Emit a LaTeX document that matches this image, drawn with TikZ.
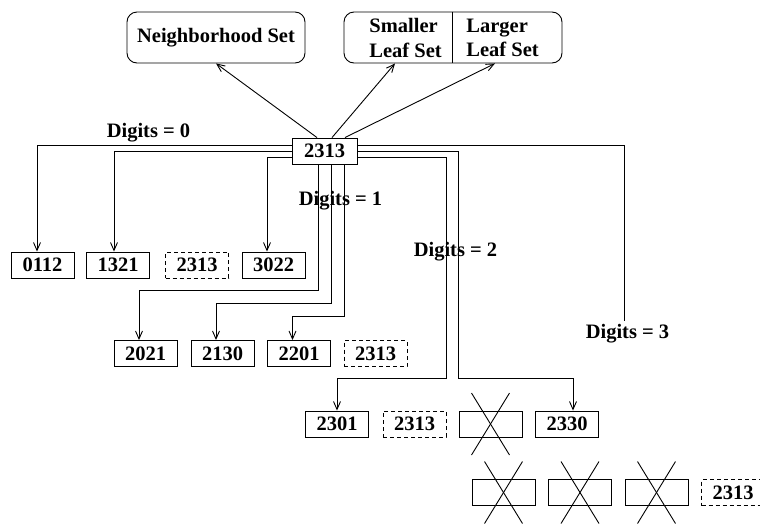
\documentclass[tikz,border=0pt]{standalone}
\usepackage{fontspec}
\setmainfont{Liberation Serif}
\usetikzlibrary{arrows.meta}
\begin{document}
\begin{tikzpicture}[x=1pt,y=-1pt,
  font=\fontsize{20.5}{24.6}\selectfont\bfseries,
  every node/.style={inner sep=0pt},
  line width=0.9pt,
  link/.style={-{Straight Barb[length=8pt,width=7pt]}},
  key/.style={draw, minimum width=63pt, minimum height=26pt},
  self/.style={key, dash pattern=on 4pt off 3pt},
  setbox/.style={draw, rounded corners=10pt, minimum height=51pt},
  label/.style={}]
\fill[white] (0,0) rectangle (760,528);
\useasboundingbox (0,0) rectangle (760,528);

% routing table owner and its state sets
\node[key, minimum width=65pt, fill=white] (hub) at (324.5,151) {2313};
\node[setbox, minimum width=178pt] (nbr) at (216,37.5) {Neighborhood Set};
\node[setbox, minimum width=218pt] (leaf) at (453,37.5) {};
\draw ([xshift=-1pt]leaf.north) -- ([xshift=-1pt]leaf.south);
\node[align=left, anchor=west] (sm) at (369,38) {Smaller\\Leaf Set};
\node[align=left, anchor=west] (lg) at (466,38) {Larger\\Leaf Set};

% row labels
\node[label] (d0) at (148.5,133) {Digits = 0};
\node[label] (d1) at (340.5,201) {Digits = 1};
\node[label] (d2) at (455.5,252) {Digits = 2};
\node[label] (d3) at (627.5,334) {Digits = 3};

% row 0
\node[key] (k0112) at (42.5,265) {0112};
\node[key] (k1321) at (118,265) {1321};
\node[self] (s0) at (197,265) {2313};
\node[key] (k3022) at (273.5,265) {3022};
% row 1
\node[key] (k2021) at (145.5,353.5) {2021};
\node[key] (k2130) at (222.5,353.5) {2130};
\node[key] (k2201) at (299,353.5) {2201};
\node[self] (s1) at (375.5,353.5) {2313};
% row 2
\node[key] (k2301) at (337,424) {2301};
\node[self] (s2) at (414.5,424) {2313};
\node[key] (xa) at (490.5,424) {};
\node[key] (k2330) at (567,424) {2330};
% row 3
\node[key] (xb) at (503.5,492.5) {};
\node[key] (xc) at (580,492.5) {};
\node[key] (xd) at (656.5,492.5) {};
\node[self] (s3) at (733,492.5) {2313};

% empty entries are crossed out
\foreach \n in {xa,xb,xc,xd} {
  \draw ([shift={(-19,-31)}]\n.center) -- ([shift={(19,31)}]\n.center);
  \draw ([shift={(19,-31)}]\n.center) -- ([shift={(-19,31)}]\n.center);
}

% links to the state sets
\draw[link] ([xshift=-7.5pt]hub.north) -- (nbr.south);
\draw[link] ([xshift=7.5pt]hub.north) -- ([xshift=-58pt]leaf.south);
\draw[link] ([xshift=20.5pt]hub.north) -- ([xshift=42pt]leaf.south);

% row 0 entries
\draw[link] ([yshift=6pt]hub.west) -| ([xshift=-5.5pt]k0112.north);
\draw[link] (hub.west) -| ([xshift=-4pt]k1321.north);
\draw[link] ([yshift=-6.5pt]hub.west) -| ([xshift=-6.5pt]k3022.north);

% row 1 entries
\draw[link] ([xshift=-6.5pt]hub.south) -- ++(0,126) -| ([xshift=-6.5pt]k2021.north);
\draw[link] ([xshift=6.5pt]hub.south) -- ++(0,139) -| ([xshift=-6.5pt]k2130.north);
\draw[link] ([xshift=19.5pt]hub.south) -- ++(0,152) -| ([xshift=-6.5pt]k2201.north);

% row 2 entries
\draw[link] ([yshift=-6.5pt]hub.east) -- ++(89,0) -- ++(0,220.5) -| (k2301.north);
\draw[link] (hub.east) -- ++(101,0) -- ++(0,227) -| ([xshift=6pt]k2330.north);

% row 3
\draw ([yshift=6pt]hub.east) -| ([xshift=-3.5pt,yshift=3pt]d3.north);
\end{tikzpicture}
\end{document}
